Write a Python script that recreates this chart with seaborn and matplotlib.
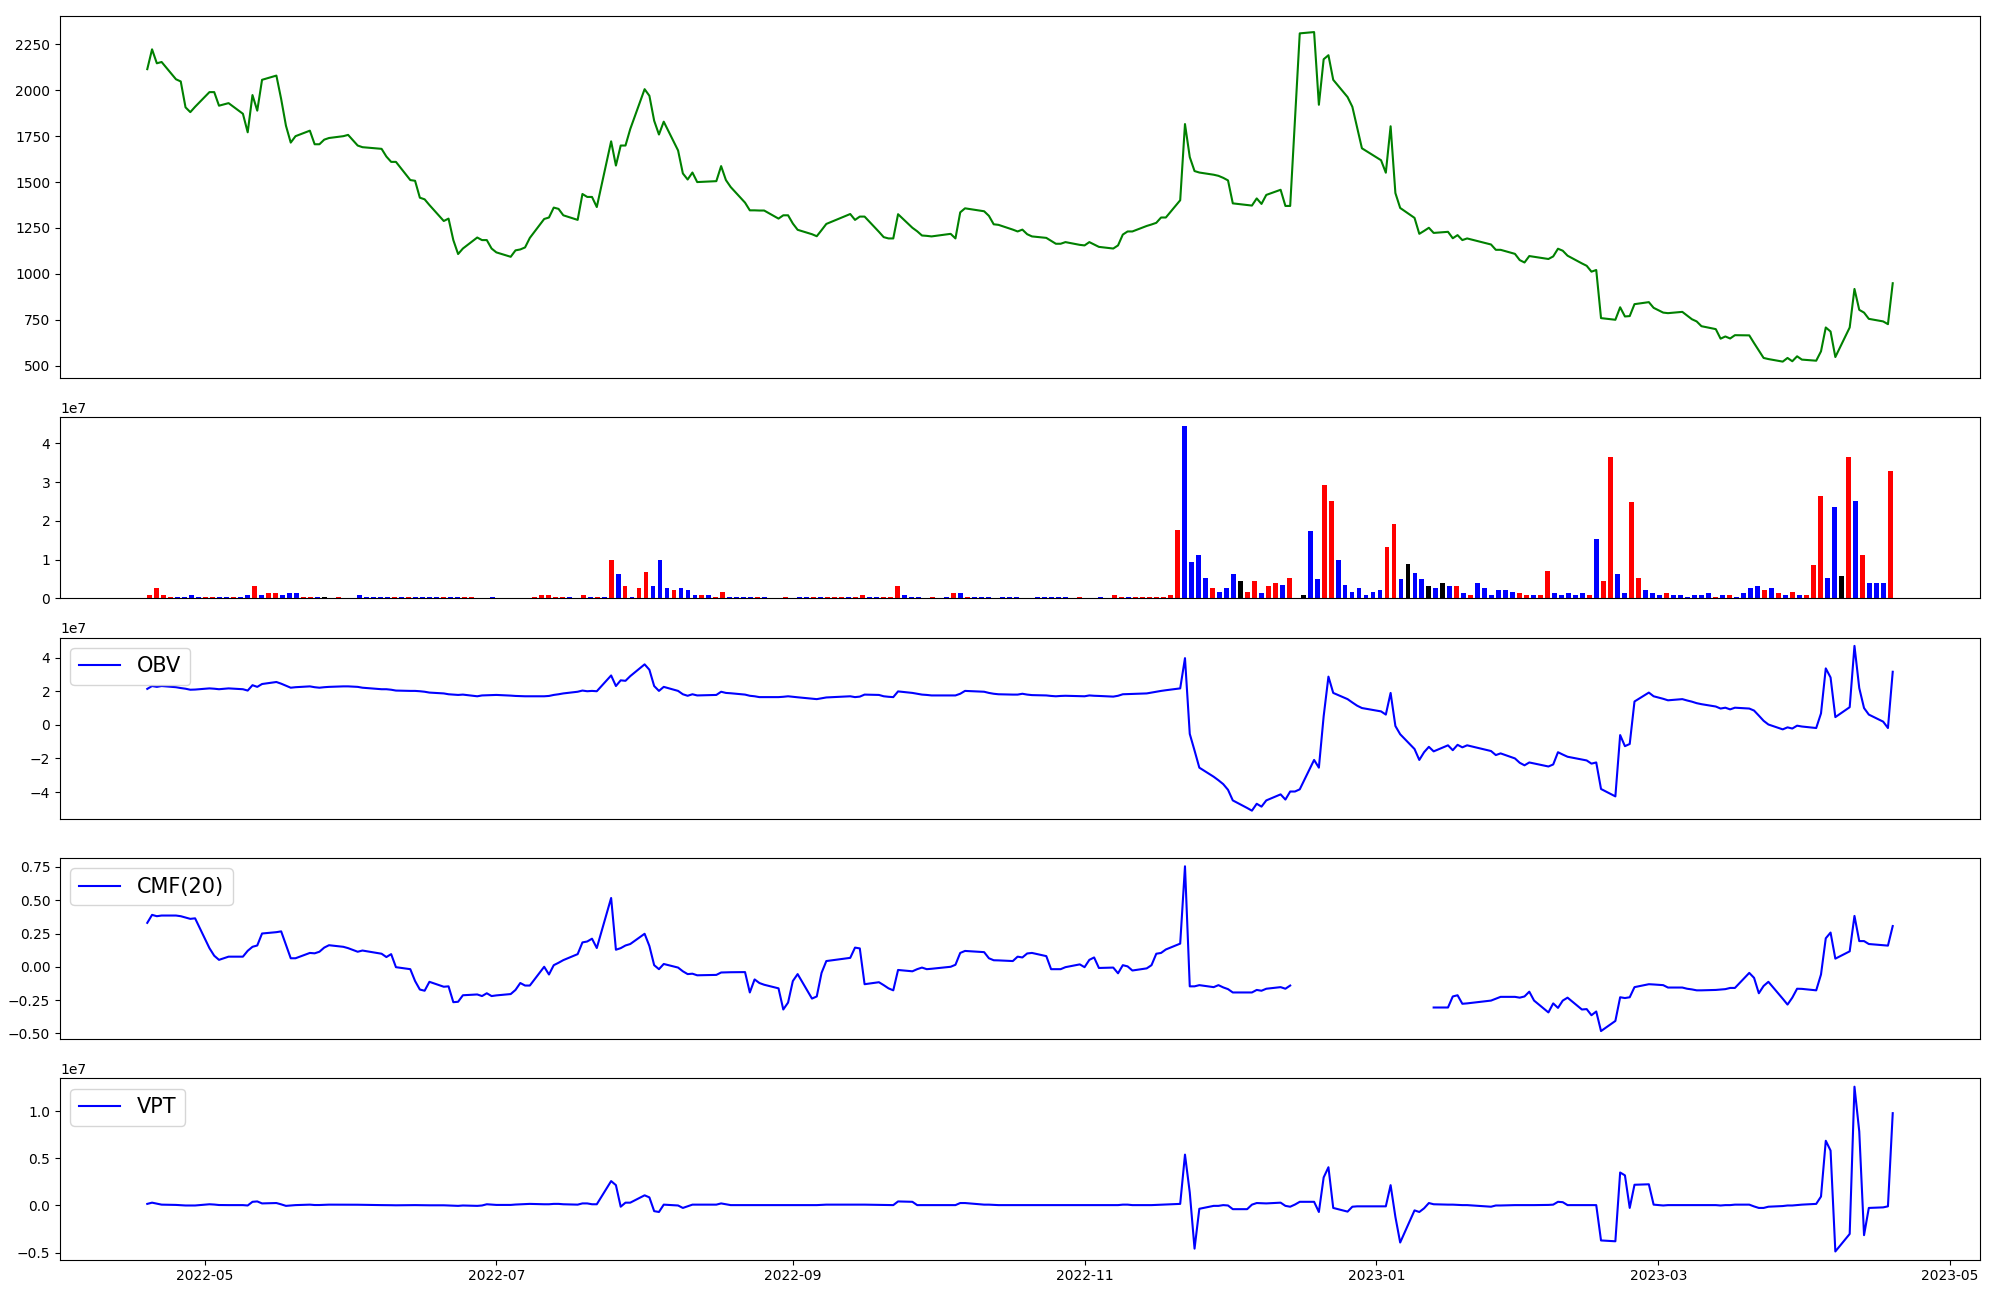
import numpy as np
import pandas as pd
import matplotlib
matplotlib.use("Agg")
import matplotlib.pyplot as plt
import seaborn as sns

nan = np.nan

# KRX trading days, 2022-04-19 .. 2023-04-19
holidays = ["2022-05-05", "2022-06-01", "2022-06-06", "2022-08-15", "2022-09-09",
            "2022-09-12", "2022-10-03", "2022-10-10", "2022-12-30", "2023-01-23",
            "2023-01-24", "2023-03-01"]
dates = pd.bdate_range("2022-04-19", "2023-04-19", freq="C", holidays=holidays)

# closing price, one row per month
close = [
    2115, 2223, 2147, 2154, 2060, 2048, 1907, 1881, 1910,
    1990, 1990, 1916, 1930, 1872, 1771, 1974, 1889, 2057, 2080, 1952, 1807, 1715, 1750, 1780, 1706, 1706, 1731, 1740, 1750, 1757,
    1699, 1690, 1681, 1639, 1610, 1610, 1511, 1507, 1415, 1406, 1375, 1288, 1301, 1184, 1108, 1138, 1198, 1184, 1184, 1138,
    1117, 1093, 1128, 1133, 1144, 1196, 1299, 1307, 1361, 1354, 1319, 1294, 1435, 1419, 1419, 1364, 1722, 1590, 1699, 1699, 1789,
    2006, 1970, 1834, 1759, 1829, 1672, 1547, 1514, 1552, 1500, 1505, 1587, 1511, 1473, 1388, 1346, 1346, 1345, 1345, 1301, 1319, 1319,
    1274, 1240, 1216, 1205, 1238, 1272, 1326, 1294, 1312, 1312, 1229, 1200, 1193, 1193, 1325, 1251, 1232, 1209, 1207, 1204,
    1218, 1193, 1335, 1357, 1341, 1316, 1270, 1267, 1241, 1231, 1241, 1216, 1204, 1196, 1180, 1164, 1164, 1173, 1158,
    1155, 1173, 1160, 1147, 1138, 1155, 1214, 1231, 1231, 1261, 1269, 1278, 1307, 1307, 1401, 1816, 1636, 1560, 1552, 1540, 1534, 1523,
    1509, 1384, 1375, 1372, 1411, 1381, 1430, 1458, 1370, 1370, 1840, 2310, 2317, 1921, 2169, 2191, 2057, 1963, 1910, 1798, 1684,
    1619, 1551, 1804, 1440, 1359, 1305, 1218, 1234, 1251, 1223, 1229, 1194, 1211, 1184, 1193, 1160, 1131, 1131, 1109, 1075,
    1062, 1097, 1093, 1081, 1095, 1137, 1126, 1099, 1057, 1044, 1012, 1021, 759, 750, 818, 768, 770, 835, 846, 815,
    789, 786, 793, 773, 753, 741, 715, 699, 647, 659, 648, 666, 665, 623, 583, 542, 536, 522, 542, 524, 551, 533,
    527, 578, 708, 686, 547, 708, 918, 804, 789, 755, 741, 726, 949,
]

# volume in units of 1e7
volume = [
    0.08, 0.26, 0.10, 0.05, 0.05, 0.03, 0.08, 0.05, 0.03,
    0.05, 0.03, 0.05, 0.05, 0.03, 0.08, 0.31, 0.10, 0.15, 0.13, 0.10, 0.13, 0.13, 0.03, 0.05, 0.05, 0.03, 0.004, 0.03, 0.004, 0.004,
    0.08, 0.03, 0.03, 0.05, 0.03, 0.03, 0.03, 0.03, 0.05, 0.05, 0.03, 0.05, 0.03, 0.05, 0.05, 0.05, 0.03, 0.004, 0.004, 0.03,
    0.004, 0.004, 0.004, 0.004, 0.004, 0.03, 0.08, 0.08, 0.05, 0.03, 0.03, 0.004, 0.08, 0.05, 0.03, 0.03, 0.98, 0.62, 0.33, 0.05, 0.26,
    0.69, 0.33, 0.98, 0.26, 0.23, 0.26, 0.21, 0.08, 0.10, 0.08, 0.03, 0.18, 0.05, 0.05, 0.05, 0.05, 0.03, 0.03, 0.004, 0.004, 0.03, 0.004,
    0.03, 0.03, 0.05, 0.03, 0.05, 0.03, 0.03, 0.03, 0.03, 0.10, 0.03, 0.05, 0.03, 0.03, 0.31, 0.08, 0.05, 0.05, 0.004, 0.03,
    0.004, 0.03, 0.13, 0.13, 0.03, 0.03, 0.05, 0.03, 0.004, 0.03, 0.05, 0.03, 0.004, 0.004, 0.03, 0.03, 0.03, 0.03, 0.03,
    0.004, 0.05, 0.004, 0.004, 0.03, 0.004, 0.10, 0.03, 0.05, 0.03, 0.03, 0.05, 0.03, 0.03, 0.10, 1.77, 4.45, 0.95, 1.11, 0.54, 0.26, 0.18,
    0.28, 0.64, 0.44, 0.18, 0.46, 0.15, 0.31, 0.39, 0.36, 0.54, 0.0, 0.08, 1.75, 0.49, 2.93, 2.52, 0.98, 0.36, 0.18, 0.26, 0.10,
    0.18, 0.21, 1.34, 1.93, 0.49, 0.90, 0.67, 0.49, 0.33, 0.28, 0.39, 0.31, 0.33, 0.15, 0.10, 0.39, 0.26, 0.10, 0.23, 0.21,
    0.18, 0.15, 0.10, 0.10, 0.10, 0.72, 0.13, 0.10, 0.15, 0.10, 0.15, 0.08, 1.54, 0.46, 3.65, 0.62, 0.13, 2.49, 0.54, 0.23,
    0.15, 0.08, 0.13, 0.10, 0.08, 0.05, 0.08, 0.10, 0.13, 0.05, 0.08, 0.08, 0.03, 0.13, 0.28, 0.31, 0.21, 0.26, 0.15, 0.08, 0.18, 0.08,
    0.08, 0.87, 2.65, 0.54, 2.37, 0.57, 3.65, 2.52, 1.13, 0.39, 0.41, 0.39, 3.29,
]

# candle direction per day: u = up, d = down, f = flat
direction = (
    "uuuuddddu"
    "uddudduduuddduudfdudd"
    "dddddududdddudduuddd"
    "duuuuuuuuuduududududu"
    "udddudddud" "uuddddud" "ddud"
    "dduduuuduudduuuddddu"
    "ddudu" "dddddddddddddd"
    "dudddduuduuuuuuudddd" "ud"
    "ddfuuduudu" "ffdduuddddd"
    "dduudfddfd" "fdududdddd"
    "duuduudddd" "duduudduud"
    "dduddddddu" "duddddududud"
    "uuuddfududddu"
)

# on-balance volume, 1e7
obv = [
    2.14, 2.31, 2.26, 2.31, 2.24, 2.19, 2.15, 2.09, 2.10,
    2.17, 2.15, 2.12, 2.17, 2.12, 2.04, 2.36, 2.26, 2.43, 2.55, 2.45, 2.33, 2.21, 2.24, 2.29, 2.24, 2.21, 2.24, 2.26, 2.29, 2.29,
    2.26, 2.21, 2.12, 2.12, 2.09, 2.04, 2.02, 2.02, 2.00, 1.97, 1.92, 1.87, 1.82, 1.80, 1.78, 1.80, 1.70, 1.75, 1.76, 1.77,
    1.78, 1.74, 1.72, 1.71, 1.70, 1.70, 1.70, 1.72, 1.78, 1.82, 1.87, 1.97, 2.04, 2.00, 2.02, 2.00, 2.94, 2.31, 2.65, 2.62, 2.90,
    3.60, 3.28, 2.31, 2.02, 2.26, 2.02, 1.82, 1.73, 1.82, 1.75, 1.78, 1.97, 1.90, 1.88, 1.80, 1.73, 1.70, 1.65, 1.65, 1.65, 1.67, 1.70,
    1.67, 1.64, 1.56, 1.53, 1.58, 1.63, 1.70, 1.65, 1.68, 1.80, 1.78, 1.70, 1.67, 1.65, 1.99, 1.90, 1.85, 1.80, 1.78, 1.75,
    1.75, 1.75, 1.85, 2.02, 1.97, 1.90, 1.85, 1.82, 1.80, 1.80, 1.85, 1.80, 1.77, 1.75, 1.72, 1.70, 1.72, 1.73, 1.71,
    1.70, 1.75, 1.73, 1.72, 1.68, 1.73, 1.82, 1.83, 1.84, 1.87, 1.92, 1.97, 2.02, 2.06, 2.17, 3.97, -0.54, -1.53, -2.55, -3.09, -3.30, -3.53,
    -3.87, -4.50, -4.95, -5.11, -4.70, -4.87, -4.50, -4.14, -4.45, -3.97, -3.97, -3.84, -2.09, -2.55, 0.51, 2.87, 1.90, 1.53, 1.33, 1.14, 1.00,
    0.80, 0.61, 1.90, -0.07, -0.56, -1.44, -2.09, -1.63, -1.31, -1.58, -1.22, -1.51, -1.19, -1.34, -1.22, -1.56, -1.80, -1.70, -2.00, -2.26,
    -2.41, -2.24, -2.30, -2.48, -2.36, -1.63, -1.77, -1.90, -2.07, -2.12, -2.31, -2.24, -3.82, -4.26, -0.61, -1.27, -1.14, 1.39, 1.92, 1.70,
    1.55, 1.46, 1.53, 1.45, 1.38, 1.29, 1.23, 1.09, 0.97, 1.02, 0.92, 1.02, 0.97, 0.85, 0.55, 0.24, 0.02, -0.27, -0.15, -0.22, -0.05, -0.10,
    -0.19, 0.68, 3.36, 2.82, 0.46, 1.05, 4.70, 2.19, 1.00, 0.61, 0.19, -0.19, 3.16,
]

# Chaikin money flow, 20 days
cmf = [
    0.33, 0.39, 0.38, 0.385, 0.385, 0.38, 0.37, 0.36, 0.364,
    0.14, 0.083, 0.052, 0.076, 0.076, 0.12, 0.15, 0.16, 0.25, 0.26, 0.266, 0.165, 0.064, 0.064, 0.104, 0.101, 0.113, 0.144, 0.162, 0.15, 0.14,
    0.113, 0.122, 0.098, 0.073, 0.095, -0.003, -0.018, -0.107, -0.171, -0.18, -0.113, -0.15, -0.147, -0.266, -0.263, -0.214, -0.208, -0.22, -0.199, -0.22,
    -0.215, -0.205, -0.174, -0.122, -0.141, -0.141, 0.0, -0.058, 0.012, 0.03, 0.05, 0.095, 0.183, 0.19, 0.211, 0.141, 0.517, 0.128, 0.14, 0.16, 0.171,
    0.248, 0.156, 0.012, -0.018, 0.021, -0.006, -0.034, -0.055, -0.052, -0.064, -0.061, -0.043, -0.042, -0.041, -0.04, -0.193, -0.095, -0.122, -0.135, -0.162, -0.321, -0.269,
    -0.107, -0.055, -0.239, -0.223, -0.046, 0.043, 0.067, 0.144, 0.138, -0.131, -0.116, -0.138, -0.162, -0.177, -0.024, -0.034, -0.018, -0.006, -0.018, -0.015,
    0.0, 0.015, 0.104, 0.119, 0.11, 0.064, 0.049, 0.048, 0.043, 0.076, 0.07, 0.1, 0.104, 0.08, -0.018, -0.018, -0.018, -0.003, 0.018,
    -0.003, 0.052, 0.07, -0.009, -0.006, -0.049, 0.012, 0.003, -0.028, -0.012, 0.012, 0.098, 0.104, 0.13, 0.174, 0.755, -0.147, -0.147, -0.138, -0.153, -0.138, -0.155,
    -0.168, -0.193, -0.193, -0.193, -0.174, -0.18, -0.165, -0.153, -0.165, -0.141, nan, nan, nan, nan, nan, nan, nan, nan, nan, nan, nan,
    nan, nan, nan, nan, nan, nan, nan, nan, nan, -0.306, -0.306, -0.223, -0.214, -0.278, -0.275, -0.254, -0.24, -0.226, -0.226, -0.232,
    -0.223, -0.187, -0.254, -0.343, -0.275, -0.309, -0.254, -0.232, -0.321, -0.318, -0.364, -0.336, -0.483, -0.407, -0.229, -0.235, -0.229, -0.153, -0.131, -0.133,
    -0.138, -0.156, -0.156, -0.165, -0.17, -0.177, -0.177, -0.174, -0.171, -0.168, -0.159, -0.159, -0.046, -0.083, -0.199, -0.144, -0.113, -0.24, -0.284, -0.232, -0.165, -0.166,
    -0.177, -0.058, 0.214, 0.257, 0.061, 0.116, 0.382, 0.193, 0.193, 0.171, 0.162, 0.159, 0.306,
]

# volume price trend, 1e7
vpt = [
    0.017, 0.03, 0.02, 0.009, 0.006, 0.003, 0.0, 0.0, 0.0,
    0.013, 0.01, 0.005, 0.004, 0.004, 0.0, 0.039, 0.043, 0.022, 0.026, 0.012, -0.004, 0.0, 0.004, 0.009, 0.005, 0.005, 0.007, 0.009, 0.009, 0.009,
    0.008, 0.007, 0.004, 0.004, 0.003, 0.002, 0.004, 0.004, 0.003, 0.003, 0.002, 0.002, 0.0, -0.003, -0.004, 0.0, -0.004, 0.0, 0.013, 0.009,
    0.006, 0.006, 0.01, 0.012, 0.015, 0.017, 0.013, 0.013, 0.017, 0.017, 0.013, 0.009, 0.022, 0.022, 0.013, 0.013, 0.259, 0.216, -0.013, 0.03, 0.03,
    0.108, 0.086, -0.06, -0.069, 0.009, 0.0, -0.026, -0.009, 0.009, 0.009, 0.009, 0.022, 0.013, 0.004, 0.004, 0.004, 0.004, 0.004, 0.004, 0.004, 0.004, 0.004,
    0.004, 0.004, 0.004, 0.004, 0.006, 0.009, 0.009, 0.009, 0.009, 0.009, 0.006, 0.004, 0.004, 0.004, 0.043, 0.039, 0.004, 0.004, 0.004, 0.004,
    0.004, 0.004, 0.026, 0.026, 0.009, 0.009, 0.006, 0.004, 0.004, 0.004, 0.004, 0.004, 0.004, 0.004, 0.004, 0.004, 0.004, 0.004, 0.004,
    0.004, 0.004, 0.004, 0.004, 0.004, 0.004, 0.009, 0.009, 0.004, 0.004, 0.004, 0.006, 0.009, 0.009, 0.017, 0.54, 0.138, -0.458, -0.035, -0.004, -0.004, 0.004,
    0.0, -0.039, -0.039, 0.009, 0.026, 0.024, 0.022, 0.03, -0.004, -0.013, 0.01, 0.039, 0.039, -0.069, 0.298, 0.406, -0.026, -0.065, -0.013, -0.009, -0.009,
    -0.009, -0.009, 0.216, -0.121, -0.393, -0.052, -0.069, -0.03, 0.026, 0.013, 0.009, 0.009, 0.006, 0.004, 0.004, -0.013, 0.0, 0.0, 0.004, 0.004,
    0.004, 0.004, 0.004, 0.006, 0.009, 0.039, 0.035, 0.004, 0.004, 0.004, 0.004, 0.004, -0.371, -0.38, 0.35, 0.32, -0.026, 0.22, 0.225, 0.009,
    0.0, 0.004, 0.004, 0.004, 0.004, 0.004, 0.004, 0.004, 0.0, 0.004, 0.004, 0.009, 0.009, -0.01, -0.026, -0.026, -0.013, -0.006, 0.0, 0.0, 0.004, 0.009,
    0.017, 0.095, 0.687, 0.583, -0.488, -0.302, 1.261, 0.786, -0.315, -0.026, -0.02, -0.009, 0.98,
]

df = pd.DataFrame({
    "date": dates,
    "close": close,
    "volume": np.array(volume) * 1e7,
    "obv": np.array(obv) * 1e7,
    "cmf": cmf,
    "vpt": np.array(vpt) * 1e7,
})
bar_colors = [{"u": "red", "d": "blue", "f": "black"}[c] for c in direction]

fig = plt.figure(figsize=(20, 13), dpi=100)
gs = fig.add_gridspec(5, 1, height_ratios=[2, 1, 1, 1, 1], hspace=0.18,
                      left=0.03, right=0.99, top=0.988, bottom=0.031)
ax_price = fig.add_subplot(gs[0])
ax_vol = fig.add_subplot(gs[1])
ax_obv = fig.add_subplot(gs[2], sharex=ax_price)
ax_cmf = fig.add_subplot(gs[3], sharex=ax_price)
ax_vpt = fig.add_subplot(gs[4], sharex=ax_price)

sns.lineplot(data=df, x="date", y="close", color="green", ax=ax_price)

# volume bars sit on the trading-day index, not on the calendar
ax_vol.bar(np.arange(len(df)), df["volume"], color=bar_colors, width=0.7)
ax_vol.set_xticks([])

sns.lineplot(data=df, x="date", y="obv", color="blue", label="OBV", ax=ax_obv)

# CMF has a gap of missing values, draw each run on its own
ok = df["cmf"].notna()
run = (~ok).cumsum()
for k, (_, part) in enumerate(df[ok].groupby(run[ok])):
    sns.lineplot(data=part, x="date", y="cmf", color="blue", ax=ax_cmf,
                 label="CMF(20)" if k == 0 else None)

sns.lineplot(data=df, x="date", y="vpt", color="blue", label="VPT", ax=ax_vpt)

for ax in (ax_price, ax_obv, ax_cmf):
    ax.tick_params(axis="x", bottom=False, labelbottom=False)
for ax in (ax_price, ax_vol, ax_obv, ax_cmf, ax_vpt):
    ax.set_xlabel("")
    ax.set_ylabel("")
for ax in (ax_obv, ax_cmf, ax_vpt):
    ax.legend(loc="upper left", fontsize=15)

fig.savefig("out.png", dpi=100)
